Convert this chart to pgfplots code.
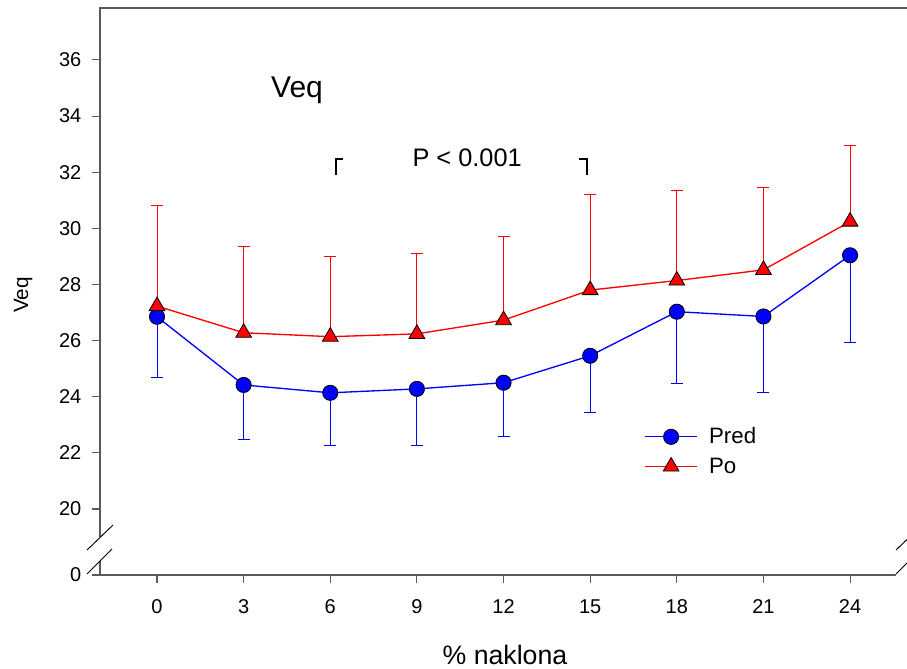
\documentclass[border=0pt]{standalone}
\usepackage{fontspec}
\setmainfont{Liberation Sans}
\usepackage{pgfplots}
\pgfplotsset{compat=1.18}
\usetikzlibrary{calc}
\definecolor{framecol}{RGB}{90,90,90}
\begin{document}
\begin{tikzpicture}
\begin{axis}[
 scale only axis, width=606.75pt, height=425.25pt,
 xmin=-1.974, xmax=26.04, ymin=17.65, ymax=37.85,
 axis line style={draw=none},
 tick pos=left, tick align=outside,
 major tick length=6pt,
 tick style={framecol, line width=0.8pt},
 xtick={0,3,...,24},
 ytick={17.65,20,22,...,36},
 yticklabels={0,20,22,24,26,28,30,32,34,36},
 /pgf/number format/assume math mode=true,
 ticklabel style={font=\fontsize{15}{18}\selectfont},
 xticklabel style={yshift=-9pt},
 yticklabel style={xshift=-4.5pt},
 clip=false,
 xlabel={\% naklona}, ylabel={Veq},
 every axis y label/.style={at={(axis description cs:-0.095,0.494)}, rotate=90, anchor=center, font=\fontsize{15.5}{19}\selectfont},
 every axis x label/.style={at={(axis description cs:0.5006,-0.141)}, anchor=center, font=\fontsize{20}{24}\selectfont},
 legend cell align=left,
 legend style={draw=none, fill=none, at={(axis cs:16.87,23.0)}, anchor=north west,
   font=\fontsize{16.7}{20}\selectfont, row sep=5pt, column sep=6.5pt, inner sep=0pt, nodes={inner sep=2pt}},
 legend image code/.code={\draw[mark repeat=2,mark phase=2,#1] plot coordinates {(0pt,0pt) (19.5pt,0pt) (39pt,0pt)};},
]
\addplot[blue, line width=1pt, mark=*, mark size=5.7pt,
  mark options={fill=blue, draw=black, line width=0.6pt},
  error bars/.cd, y dir=minus, y explicit,
  error bar style={blue, line width=0.7pt},
  error mark options={rotate=90, blue, mark size=4.5pt, line width=0.7pt}]
 coordinates {
 (0,26.85) -= (0,2.17)
 (3,24.42) -= (0,1.94)
 (6,24.14) -= (0,1.86)
 (9,24.28) -= (0,2.01)
 (12,24.50) -= (0,1.92)
 (15,25.46) -= (0,2.02)
 (18,27.03) -= (0,2.55)
 (21,26.86) -= (0,2.72)
 (24,29.04) -= (0,3.09)
 };
\addlegendentry{Pred}
\addplot[red, line width=1pt, mark=triangle*, mark size=6.8pt,
  mark options={fill=red, draw=black, line width=0.6pt},
  error bars/.cd, y dir=plus, y explicit,
  error bar style={red, line width=0.7pt},
  error mark options={rotate=90, red, mark size=4.5pt, line width=0.7pt}]
 coordinates {
 (0,27.23) += (0,3.60)
 (3,26.28) += (0,3.07)
 (6,26.14) += (0,2.85)
 (9,26.24) += (0,2.87)
 (12,26.73) += (0,2.97)
 (15,27.80) += (0,3.39)
 (18,28.14) += (0,3.20)
 (21,28.52) += (0,2.94)
 (24,30.24) += (0,2.70)
 };
\addlegendentry{Po}
% frame
\draw[framecol, line width=1pt] (axis cs:-1.974,19.0) -- (rel axis cs:0,1) -- (rel axis cs:1,1) -- (axis cs:26.04,19.0);
\draw[framecol, line width=1pt] (axis cs:-1.974,18.15) -- (axis cs:-1.974,17.65) -- (axis cs:25.59,17.65);
\draw[framecol, line width=1pt] (axis cs:26.04,17.65) -- (axis cs:26.04,18.15);
% breaks
\draw[black, line width=0.7pt] (axis cs:-2.424,18.54) -- (axis cs:-1.524,19.43);
\draw[black, line width=0.7pt] (axis cs:-2.424,17.686) -- (axis cs:-1.558,18.577);
\draw[black, line width=0.7pt] (axis cs:25.59,18.54) -- (axis cs:26.49,19.43);
\draw[black, line width=0.7pt] (axis cs:25.59,17.686) -- (axis cs:26.456,18.577);
% annotations
\node[anchor=base, font=\fontsize{22.5}{27}\selectfont] at (axis cs:4.85,34.65) {Veq};
\node[anchor=base, font=\fontsize{19}{23}\selectfont] at (axis cs:10.74,32.20) {P < 0.001};
\draw[black, line width=1.6pt] (axis cs:6.44,32.46) -- (axis cs:6.2,32.46) -- (axis cs:6.2,31.90);
\draw[black, line width=1.6pt] (axis cs:14.61,32.46) -- (axis cs:14.89,32.46) -- (axis cs:14.89,31.90);
\end{axis}
\pgfresetboundingbox
\path ($(current axis.south west)+(-75pt,-70.5pt)$) rectangle ($(current axis.north east)+(-1.5pt,6pt)$);
\end{tikzpicture}
\end{document}
